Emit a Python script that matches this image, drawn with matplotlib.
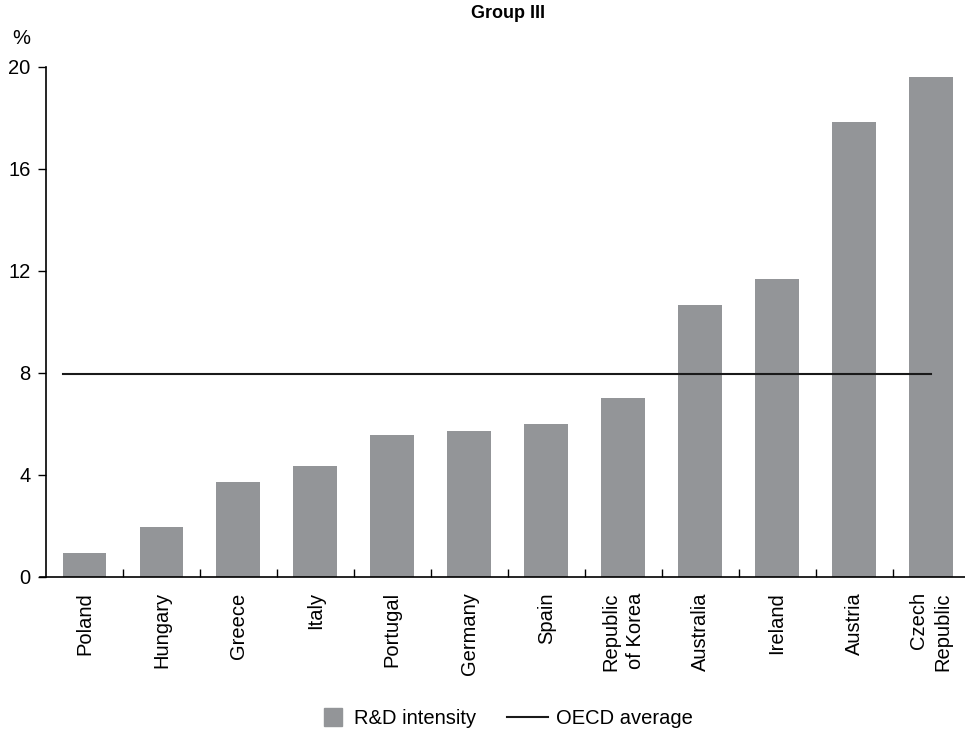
import matplotlib.pyplot as plt
import matplotlib.patches as mpatches
from matplotlib.legend_handler import HandlerPatch
import numpy as np

plt.rcParams['font.family'] = ['Liberation Sans', 'DejaVu Sans']

# data
countries = ['Poland', 'Hungary', 'Greece', 'Italy', 'Portugal', 'Germany', 'Spain',
             'Republic\nof Korea', 'Australia', 'Ireland', 'Austria', 'Czech\nRepublic']
intensity = [0.95, 1.95, 3.72, 4.35, 5.57, 5.72, 6.0, 7.02, 10.67, 11.68, 17.84, 19.6]
oecd_avg = 7.95
bar_color = '#939598'

fig = plt.figure(figsize=(9.65, 7.33), dpi=100)
ax = fig.add_axes([46/965, 1 - 577/733, (969.5 - 46)/965, 510/733])

x = np.arange(len(countries))
ax.bar(x, intensity, width=0.57, color=bar_color, zorder=2)
line, = ax.plot([-0.285, 11.0], [oecd_avg, oecd_avg], color='#1a1a1a', lw=1.5, zorder=3)

ax.set_xlim(-0.5, 11.5)
ax.set_ylim(0, 20)
ax.set_yticks([0, 4, 8, 12, 16, 20])
ax.tick_params(axis='y', direction='out', length=6, width=1, labelsize=14.5, pad=5)

# category labels, ticks at the boundaries
ax.set_xticks(np.arange(0.5, 11, 1))
ax.tick_params(axis='x', direction='in', length=6, width=1, labelbottom=False)
for xi, name in zip(x, countries):
    ax.text(xi, -0.6, name, rotation=90, ha='center', va='top', multialignment='right',
            fontsize=14.5, linespacing=1.35)

for s in ['top', 'right']:
    ax.spines[s].set_visible(False)
ax.spines['left'].set_linewidth(1.2)
ax.spines['bottom'].set_linewidth(1.2)
ax.spines['bottom'].set_bounds(-0.58, 11.5)

ax.set_title('Group III', fontsize=13, fontweight='bold', pad=35)
fig.text(12/965, 1 - 38/733, '%', fontsize=14.5, va='center')


# square legend swatch, pushed next to its text
def square_patch(legend, orig_handle, xdescent, ydescent, width, height, fontsize):
    side = height * 1.28
    return mpatches.Rectangle((-xdescent + width - side - 3, -ydescent + (height - side) / 2),
                              side, side)


swatch = mpatches.Rectangle((0, 0), 1, 1, color=bar_color)
fig.legend([swatch, line], ['R&D intensity', 'OECD average'], loc='center',
           bbox_to_anchor=(499/965, 1 - 719/733), ncol=2, frameon=False,
           fontsize=14.5, handlelength=2.05, columnspacing=1.5, handletextpad=0.4,
           handler_map={mpatches.Rectangle: HandlerPatch(patch_func=square_patch)})

plt.savefig('out.png', dpi=100)
